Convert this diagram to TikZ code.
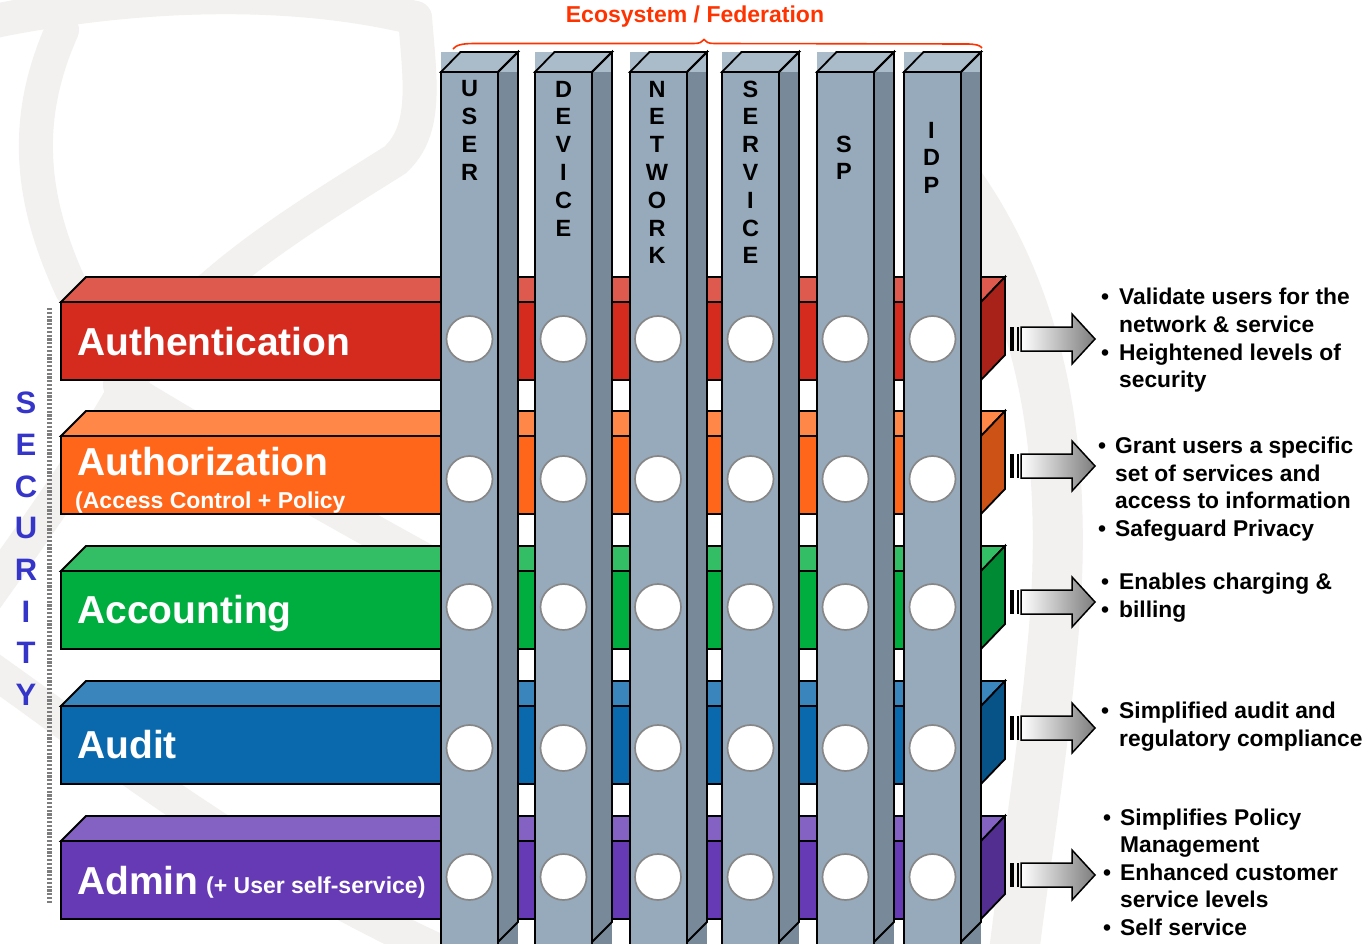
\documentclass[tikz,border=0pt]{standalone}
\usepackage{fontspec}
\setmainfont{Liberation Sans}

% palette
\definecolor{wm}{RGB}{242,241,239}
\definecolor{colFront}{RGB}{150,170,187}
\definecolor{colSide}{RGB}{120,138,153}
\definecolor{colTop}{RGB}{170,187,202}
\definecolor{holegray}{RGB}{135,135,135}
\definecolor{secblue}{RGB}{53,53,201}
\definecolor{eco}{RGB}{255,51,0}
\definecolor{arrowgray}{RGB}{125,125,125}
\definecolor{dotgray}{RGB}{125,125,125}
\definecolor{redF}{RGB}{213,43,30}      \definecolor{redT}{RGB}{222,90,78}     \definecolor{redS}{RGB}{169,34,26}
\definecolor{orgF}{RGB}{255,102,26}     \definecolor{orgT}{RGB}{255,135,72}    \definecolor{orgS}{RGB}{204,82,22}
\definecolor{grnF}{RGB}{0,173,63}       \definecolor{grnT}{RGB}{51,190,102}    \definecolor{grnS}{RGB}{0,138,51}
\definecolor{bluF}{RGB}{10,104,172}     \definecolor{bluT}{RGB}{58,133,188}    \definecolor{bluS}{RGB}{7,82,135}
\definecolor{purF}{RGB}{102,57,181}     \definecolor{purT}{RGB}{132,98,195}    \definecolor{purS}{RGB}{82,46,145}

% horizontal 3D layer: front top y, front, top and side colours
\newcommand\layerbar[4]{%
  \draw[outl, fill=#3] (61,#1) -- (86,{#1-25}) -- (1005,{#1-25}) -- (981,#1) -- cycle;
  \draw[outl, fill=#4] (981,#1) -- (1005,{#1-25}) -- (1005,{#1+53}) -- (981,{#1+78}) -- cycle;
  \draw[outl, fill=#2] (61,#1) rectangle (981,{#1+78});
}

% vertical 3D pillar: left x of the front face
\newcommand\pillar[1]{%
  \fill[colTop] (#1,52) rectangle ({#1+77},72);
  \fill[colSide] ({#1+57},72) rectangle ({#1+77},950);
  \draw[outl, fill=colTop] (#1,72) -- ({#1+19.5},52) -- ({#1+77},52) -- ({#1+57},72) -- cycle;
  \draw[outl] ({#1+57},72) -- ({#1+77},52) -- ({#1+77},922) -- ({#1+57},942);
  \draw[outl, fill=colFront] (#1,72) rectangle ({#1+57},960);
}

% striped block arrow: name, centre y
\newcommand\stripearrow[2]{%
  \fill[black] (1010,{#2-12}) rectangle (1014,{#2+12});
  \fill[black] (1016.5,{#2-12}) rectangle (1019,{#2+12});
  \draw[outl, line width=1.5pt, left color=white, right color=arrowgray]
    (1021,{#2-12}) -- (1072,{#2-12}) -- (1072,{#2-25}) -- (1095,#2)
    -- (1072,{#2+25}) -- (1072,{#2+12}) -- (1021,{#2+12}) -- cycle;
  \coordinate (#1) at (1095,#2);
}

\tikzset{
  outl/.style={draw=black, line width=1.8pt, line join=miter},
  hole/.style={circle, fill=white, draw=holegray, line width=1.7pt, minimum size=46pt, inner sep=0pt},
  pletter/.style={font=\bfseries\fontsize{23.5}{23.5}\selectfont, inner sep=0pt},
  secletter/.style={font=\bfseries\fontsize{31}{31}\selectfont, text=secblue, inner sep=0pt},
  barlabel/.style={font=\bfseries\fontsize{39}{39}\selectfont, text=white, anchor=base west, inner sep=0pt},
  barsub/.style={font=\bfseries\fontsize{23}{23}\selectfont, text=white, anchor=base west, inner sep=0pt},
  note/.style={font=\bfseries\fontsize{22.8}{22.8}\selectfont, anchor=base west, inner sep=0pt},
  bulletmark/.style={font=\bfseries\fontsize{22.8}{22.8}\selectfont, anchor=base, inner sep=0pt},
  wmark/.style={draw=wm, line width=34pt, line cap=round},
}

\begin{document}
\begin{tikzpicture}[x=1pt, y=-1pt]
\clip (0,0) rectangle (1366,944);
\fill[white] (0,0) rectangle (1366,944);

% faint background emblem
\draw[wmark] (-10,22) .. controls (120,-5) and (280,-15) .. (415,18);
\draw[wmark] (415,18) .. controls (420,80) and (428,130) .. (395,160)
             .. controls (300,220) and (180,290) .. (125,390)
             .. controls (85,460) and (35,530) .. (-15,600);
\draw[wmark] (120,385) .. controls (210,440) and (350,520) .. (470,585);
\draw[wmark] (62,30) .. controls (22,120) and (30,200) .. (72,290);
\draw[wmark] (-15,665) .. controls (100,745) and (250,870) .. (470,965);
\draw[wmark, line width=50pt] (960,185) .. controls (1040,300) and (1072,450) .. (1052,650)
             .. controls (1040,780) and (1022,880) .. (1012,970);

% security layers
\layerbar{302}{redF}{redT}{redS}
\layerbar{436}{orgF}{orgT}{orgS}
\layerbar{571}{grnF}{grnT}{grnS}
\layerbar{706}{bluF}{bluT}{bluS}
\layerbar{841}{purF}{purT}{purS}

% ecosystem pillars
\pillar{441}
\pillar{535}
\pillar{630}
\pillar{722}
\pillar{817}
\pillar{904}

% crossing points
\foreach \cx [count=\c] in {469.5,563.5,658,750.5,845.5,932.5}
  \foreach \cy [count=\r] in {339,479,607,748,877}
    \node[hole] (hole-\c-\r) at (\cx,\cy) {};

% pillar titles
\foreach \ch [count=\i] in {U,S,E,R}
  \node[pletter] (user-\i) at (469.5,{89+(\i-1)*27.8}) {\ch};
\foreach \ch [count=\i] in {D,E,V,I,C,E}
  \node[pletter] (device-\i) at (563.5,{89+(\i-1)*27.8}) {\ch};
\foreach \ch [count=\i] in {N,E,T,W,O,R,K}
  \node[pletter] (network-\i) at (657,{89+(\i-1)*27.8}) {\ch};
\foreach \ch [count=\i] in {S,E,R,V,I,C,E}
  \node[pletter] (service-\i) at (750.5,{89+(\i-1)*27.8}) {\ch};
\foreach \ch [count=\i] in {S,P}
  \node[pletter] (sp-\i) at (844,{144+(\i-1)*27.8}) {\ch};
\foreach \ch [count=\i] in {I,D,P}
  \node[pletter] (idp-\i) at (931.5,{130+(\i-1)*27.8}) {\ch};

% layer labels
\node[barlabel] (authn) at (77,355) {Authentication};
\node[barlabel] (authz) at (77,475) {Authorization};
\node[barsub]   (authz-sub) at (75,508) {(Access Control + Policy};
\node[barlabel] (acct) at (77,623) {Accounting};
\node[barlabel] (audit) at (77,758) {Audit};
\node[barlabel] (admin) at (77,894) {Admin};
\node[barsub]   (admin-sub) at (206,893) {(+ User self-service)};

% security side label
\foreach \ch [count=\i] in {S,E,C,U,R,I,T,Y}
  \node[secletter] (sec-\i) at (26,{403+(\i-1)*41.7}) {\ch};
\draw[dotgray, line width=4.5pt, dash pattern=on 2.2pt off 1.6pt] (49.5,308) -- (49.5,903);

% ecosystem heading and brace
\node[font=\bfseries\fontsize{23}{23}\selectfont, text=eco, anchor=base, inner sep=0pt] (eco) at (695,23) {Ecosystem / Federation};
\draw[eco, line width=1.6pt] (453,49) .. controls (456,45) and (462,43.5) .. (475,43.5) -- (694,43.5)
   .. controls (700,43.5) and (702,42) .. (704,39.5) .. controls (706,42) and (708,43.5) .. (714,43.5)
   -- (966,44) .. controls (975,44) and (980,45) .. (982,48);

% outcome arrows
\stripearrow{arr-authn}{339}
\stripearrow{arr-authz}{466}
\stripearrow{arr-acct}{602}
\stripearrow{arr-audit}{728}
\stripearrow{arr-admin}{875}

% outcomes
\node[bulletmark] (b1a) at (1105,305) {•};
\node[note] (t1a) at (1119,305) {Validate users for the};
\node[note] (t1b) at (1119,332) {network \& service};
\node[bulletmark] (b1c) at (1105,360) {•};
\node[note] (t1c) at (1119,360) {Heightened levels of};
\node[note] (t1d) at (1119,387) {security};

\node[bulletmark] (b2a) at (1102,453) {•};
\node[note] (t2a) at (1115,453) {Grant users a specific};
\node[note] (t2b) at (1115,481) {set of services and};
\node[note] (t2c) at (1115,508) {access to information};
\node[bulletmark] (b2d) at (1102,536) {•};
\node[note] (t2d) at (1115,536) {Safeguard Privacy};

\node[bulletmark] (b3a) at (1105,589) {•};
\node[note] (t3a) at (1119,589) {Enables charging \&};
\node[bulletmark] (b3b) at (1105,617) {•};
\node[note] (t3b) at (1119,617) {billing};

\node[bulletmark] (b4a) at (1105,718) {•};
\node[note] (t4a) at (1119,718) {Simplified audit and};
\node[note] (t4b) at (1119,746) {regulatory compliance};

\node[bulletmark] (b5a) at (1107,825) {•};
\node[note] (t5a) at (1120,825) {Simplifies Policy};
\node[note] (t5b) at (1120,852) {Management};
\node[bulletmark] (b5c) at (1107,880) {•};
\node[note] (t5c) at (1120,880) {Enhanced customer};
\node[note] (t5d) at (1120,907) {service levels};
\node[bulletmark] (b5e) at (1107,935) {•};
\node[note] (t5e) at (1120,935) {Self service};
\end{tikzpicture}
\end{document}
